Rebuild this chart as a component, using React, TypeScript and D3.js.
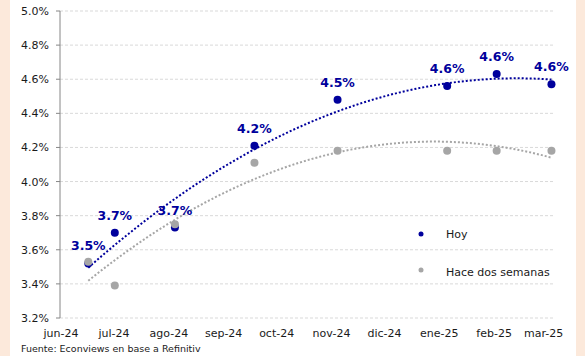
import React from 'react';
import * as d3 from 'd3';

// Fechas de cada relevamiento
const fechas = ['2024-06-17', '2024-07-02', '2024-08-05', '2024-09-19', '2024-11-05', '2025-01-06', '2025-02-03', '2025-03-06'];
// Series
const hoy = [3.52, 3.70, 3.73, 4.21, 4.48, 4.56, 4.63, 4.57];
const haceDosSemanas = [3.53, 3.39, 3.75, 4.11, 4.18, 4.18, 4.18, 4.18];
// Ejes
const mesesLabels = ['jun-24', 'jul-24', 'ago-24', 'sep-24', 'oct-24', 'nov-24', 'dic-24', 'ene-25', 'feb-25', 'mar-25'];
const yTicks = [3.2, 3.4, 3.6, 3.8, 4.0, 4.2, 4.4, 4.6, 4.8, 5.0];

const BLUE = '#00009C';
const GRAY = '#A6A6A6';
const FONT = 'DejaVu Sans, Verdana, sans-serif';

const parse = d3.timeParse('%Y-%m-%d');

// ajuste polinomico de orden 2 (como la linea de tendencia de Excel)
function polyFit2(xs: number[], ys: number[]) {
  let s = [0, 0, 0, 0, 0];
  let t = [0, 0, 0];
  xs.forEach((x, i) => {
    for (let k = 0; k < 5; k++) s[k] += Math.pow(x, k);
    for (let k = 0; k < 3; k++) t[k] += Math.pow(x, k) * ys[i];
  });
  const A = [
    [s[0], s[1], s[2], t[0]],
    [s[1], s[2], s[3], t[1]],
    [s[2], s[3], s[4], t[2]],
  ];
  for (let i = 0; i < 3; i++) {
    for (let j = i + 1; j < 3; j++) {
      const f = A[j][i] / A[i][i];
      for (let k = i; k < 4; k++) A[j][k] -= f * A[i][k];
    }
  }
  const c = [0, 0, 0];
  for (let i = 2; i >= 0; i--) {
    let v = A[i][3];
    for (let k = i + 1; k < 3; k++) v -= A[i][k] * c[k];
    c[i] = v / A[i][i];
  }
  return (x: number) => c[0] + c[1] * x + c[2] * x * x;
}

const App = () => {
  const width = 585;
  const height = 356;
  const dates = fechas.map(d => parse(d) as Date);
  const start = parse('2024-06-01') as Date;

  const x = d3.scaleTime().domain([start, parse('2025-03-08') as Date]).range([60, 555]);
  const y = d3.scaleLinear().domain([3.2, 5.0]).range([318, 11]);

  const meses = d3.timeMonth.range(start, parse('2025-03-02') as Date);

  const toDays = (d: Date) => (d.getTime() - start.getTime()) / 864e5 / 100;
  const xs = dates.map(toDays);

  const trend = (vals: number[]) => {
    const f = polyFit2(xs, vals);
    const a = dates[0].getTime();
    const b = dates[dates.length - 1].getTime();
    const pts: [number, number][] = d3.range(0, 61).map(i => {
      const dt = new Date(a + (b - a) * i / 60);
      return [x(dt), y(f(toDays(dt)))];
    });
    return d3.line()(pts) as string;
  };

  return (
    <svg width={width} height={height} style={{ position: 'absolute', left: 0, top: 0, background: '#fff' }} fontFamily={FONT}>
      <rect x={0} y={0} width={10} height={height} fill="#FCE9DB" />
      <rect x={576} y={0} width={9} height={height} fill="#FCE9DB" />

      {/* grilla y eje y */}
      {yTicks.map(t => (
        <g key={t}>
          <line x1={60} x2={555} y1={y(t)} y2={y(t)} stroke="#D9D9D9" strokeDasharray="3,2" />
          <line x1={56} x2={60} y1={y(t)} y2={y(t)} stroke="#868686" />
          <text x={49} y={y(t) + 4} textAnchor="end" fontSize={11} fill="#1a1a1a">{t.toFixed(1)}%</text>
        </g>
      ))}
      <line x1={60} x2={60} y1={11} y2={318} stroke="#868686" />

      {/* eje x */}
      {meses.map((m, i) => (
        <text key={i} x={x(m) + 1} y={337} textAnchor="middle" fontSize={11} fill="#1a1a1a">{mesesLabels[i]}</text>
      ))}

      {/* tendencias */}
      <path d={trend(hoy)} fill="none" stroke={BLUE} strokeWidth={2} strokeDasharray="2,2" />
      <path d={trend(haceDosSemanas)} fill="none" stroke={GRAY} strokeWidth={2} strokeDasharray="2,2" />

      {/* puntos */}
      {hoy.map((v, i) => (
        <circle key={'h' + i} cx={x(dates[i])} cy={y(v)} r={4} fill={BLUE} />
      ))}
      {haceDosSemanas.map((v, i) => (
        <circle key={'s' + i} cx={x(dates[i])} cy={y(v)} r={4} fill={GRAY} />
      ))}
      {hoy.map((v, i) => (
        <text key={'l' + i} x={x(dates[i])} y={y(v) - 13} textAnchor="middle" fontSize={12.5} fontWeight="bold" fill={BLUE}>
          {v.toFixed(1)}%
        </text>
      ))}

      {/* leyenda */}
      <circle cx={421} cy={234} r={2.5} fill={BLUE} />
      <text x={446} y={238} fontSize={11} fill="#1a1a1a">Hoy</text>
      <circle cx={421} cy={270} r={2.5} fill={GRAY} />
      <text x={446} y={276} fontSize={11} fill="#1a1a1a">Hace dos semanas</text>

      <text x={21} y={352} fontSize={9.5} fill="#1a1a1a">Fuente: Econviews en base a Refinitiv</text>
    </svg>
  );
};

export default App;
